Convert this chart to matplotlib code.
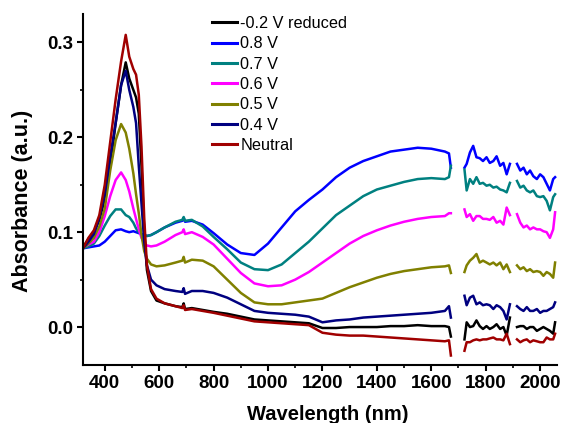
"""
Absorbance spectra at different potentials
"""

import numpy as np
import matplotlib
matplotlib.use('Agg')
import matplotlib.pyplot as plt
from matplotlib.ticker import MultipleLocator

plt.rcParams['font.family'] = ['Liberation Sans', 'DejaVu Sans']

# wavelength grids (nm): visible/NIR part, then two detector segments
wl_vis = [320, 340, 360, 380, 400, 420, 440, 460, 477, 490, 505, 515, 525, 535, 545,
          555, 570, 590, 620, 660, 685, 690, 695, 720, 760, 800, 850, 900, 950, 1000,
          1050, 1100, 1150, 1200, 1250, 1300, 1350, 1400, 1450, 1500, 1550, 1600, 1650, 1665, 1672]
wl_nir1 = [1722, 1730, 1742, 1754, 1766, 1778, 1790, 1803, 1815, 1828, 1840, 1853, 1865, 1877, 1889]
wl_nir2 = [1915, 1927, 1939, 1951, 1963, 1975, 1988, 2000, 2012, 2024, 2036, 2048, 2055]

labels = ['-0.2 V reduced', '0.8 V', '0.7 V', '0.6 V', '0.5 V', '0.4 V', 'Neutral']
colors = ['#000000', '#0000FF', '#008080', '#FF00FF', '#808000', '#000080', '#A00000']

red_vis = [0.083, 0.094, 0.102, 0.118, 0.15, 0.195, 0.24, 0.28, 0.308, 0.285, 0.272, 0.266, 0.245, 0.19, 0.115,
           0.065, 0.04, 0.03, 0.025, 0.022, 0.02, 0.023, 0.018, 0.019, 0.017, 0.015, 0.012, 0.009, 0.006, 0.005,
           0.004, 0.003, 0.002, -0.006, -0.008, -0.009, -0.009, -0.01, -0.011, -0.012, -0.013, -0.014, -0.015, -0.014, -0.03]
red_nir1 = [-0.025, -0.016, -0.016, -0.014, -0.013, -0.014, -0.013, -0.013, -0.012, -0.011, -0.013, -0.013, -0.014, -0.007, -0.018]
red_nir2 = [-0.013, -0.016, -0.014, -0.013, -0.016, -0.014, -0.015, -0.016, -0.016, -0.011, -0.013, -0.013, -0.007]

black_vis = [0.084, 0.093, 0.1, 0.113, 0.135, 0.17, 0.215, 0.255, 0.279, 0.262, 0.25, 0.242, 0.225, 0.17, 0.1,
             0.06, 0.038, 0.028, 0.025, 0.022, 0.021, 0.025, 0.019, 0.02, 0.018, 0.016, 0.014, 0.011, 0.008, 0.007,
             0.006, 0.005, 0.004, -0.001, -0.001, 0.0, 0.0, 0.0, 0.001, 0.001, 0.002, 0.001, 0.001, 0.0, -0.01]
black_nir1 = [-0.013, 0.005, 0.0, 0.001, 0.007, 0.001, -0.002, 0.001, -0.002, 0.0, 0.003, -0.002, 0.0, -0.009, 0.01]
black_nir2 = [0.0, 0.001, 0.001, -0.002, 0.0, 0.0, -0.004, -0.002, 0.0, -0.002, -0.004, -0.007, 0.005]

navy_vis = [0.083, 0.09, 0.098, 0.115, 0.14, 0.18, 0.215, 0.255, 0.27, 0.25, 0.232, 0.215, 0.17, 0.13, 0.09,
            0.065, 0.05, 0.044, 0.04, 0.038, 0.037, 0.041, 0.035, 0.038, 0.038, 0.036, 0.031, 0.024, 0.017, 0.015,
            0.014, 0.013, 0.011, 0.005, 0.007, 0.008, 0.01, 0.011, 0.012, 0.013, 0.014, 0.015, 0.017, 0.022, 0.01]
navy_nir1 = [0.033, 0.023, 0.031, 0.033, 0.024, 0.026, 0.023, 0.024, 0.023, 0.019, 0.023, 0.021, 0.017, 0.008, 0.024]
navy_nir2 = [0.022, 0.019, 0.017, 0.021, 0.017, 0.017, 0.019, 0.015, 0.017, 0.017, 0.019, 0.021, 0.026]

olive_vis = [0.083, 0.088, 0.094, 0.106, 0.125, 0.165, 0.197, 0.214, 0.205, 0.188, 0.162, 0.14, 0.12, 0.097, 0.08,
             0.072, 0.066, 0.064, 0.065, 0.068, 0.07, 0.074, 0.068, 0.071, 0.07, 0.064, 0.05, 0.036, 0.026, 0.024,
             0.024, 0.026, 0.028, 0.03, 0.036, 0.042, 0.047, 0.052, 0.056, 0.059, 0.061, 0.063, 0.064, 0.065, 0.057]
olive_nir1 = [0.058, 0.065, 0.07, 0.073, 0.077, 0.068, 0.07, 0.068, 0.066, 0.068, 0.065, 0.068, 0.061, 0.066, 0.058]
olive_nir2 = [0.065, 0.061, 0.063, 0.059, 0.061, 0.058, 0.059, 0.058, 0.054, 0.058, 0.056, 0.052, 0.068]

magenta_vis = [0.084, 0.087, 0.09, 0.1, 0.117, 0.138, 0.155, 0.163, 0.155, 0.143, 0.125, 0.114, 0.103, 0.094, 0.088,
               0.086, 0.085, 0.086, 0.09, 0.097, 0.1, 0.103, 0.098, 0.1, 0.095, 0.087, 0.072, 0.057, 0.046, 0.043,
               0.044, 0.05, 0.058, 0.068, 0.078, 0.088, 0.096, 0.102, 0.107, 0.111, 0.114, 0.116, 0.117, 0.12, 0.12]
magenta_nir1 = [0.124, 0.116, 0.119, 0.112, 0.117, 0.117, 0.114, 0.114, 0.113, 0.116, 0.11, 0.112, 0.108, 0.126, 0.118]
magenta_nir2 = [0.119, 0.11, 0.105, 0.107, 0.103, 0.105, 0.103, 0.103, 0.101, 0.1, 0.094, 0.103, 0.121]

teal_vis = [0.083, 0.085, 0.088, 0.096, 0.107, 0.117, 0.124, 0.124, 0.118, 0.116, 0.11, 0.104, 0.1, 0.098, 0.097,
            0.096, 0.097, 0.1, 0.105, 0.111, 0.113, 0.116, 0.112, 0.113, 0.106, 0.095, 0.082, 0.068, 0.061, 0.06,
            0.066, 0.078, 0.09, 0.104, 0.118, 0.128, 0.138, 0.145, 0.149, 0.153, 0.156, 0.157, 0.156, 0.158, 0.17]
teal_nir1 = [0.166, 0.144, 0.156, 0.151, 0.158, 0.151, 0.152, 0.149, 0.15, 0.147, 0.148, 0.145, 0.144, 0.142, 0.152]
teal_nir2 = [0.154, 0.147, 0.149, 0.144, 0.142, 0.144, 0.138, 0.137, 0.138, 0.133, 0.123, 0.137, 0.14]

blue_vis = [0.083, 0.084, 0.085, 0.086, 0.09, 0.096, 0.102, 0.103, 0.101, 0.1, 0.101, 0.1, 0.099, 0.098, 0.097,
            0.096, 0.097, 0.1, 0.105, 0.11, 0.112, 0.115, 0.111, 0.112, 0.108, 0.099, 0.087, 0.078, 0.076, 0.088,
            0.105, 0.122, 0.134, 0.145, 0.158, 0.168, 0.175, 0.18, 0.185, 0.187, 0.189, 0.188, 0.185, 0.183, 0.168]
blue_nir1 = [0.168, 0.172, 0.184, 0.191, 0.179, 0.178, 0.175, 0.179, 0.173, 0.175, 0.18, 0.17, 0.173, 0.161, 0.172]
blue_nir2 = [0.172, 0.165, 0.168, 0.161, 0.165, 0.159, 0.156, 0.161, 0.158, 0.151, 0.144, 0.156, 0.158]

series = [(black_vis, black_nir1, black_nir2),
          (blue_vis, blue_nir1, blue_nir2),
          (teal_vis, teal_nir1, teal_nir2),
          (magenta_vis, magenta_nir1, magenta_nir2),
          (olive_vis, olive_nir1, olive_nir2),
          (navy_vis, navy_nir1, navy_nir2),
          (red_vis, red_nir1, red_nir2)]

x_all = np.concatenate([wl_vis, [np.nan], wl_nir1, [np.nan], wl_nir2])

fig = plt.figure(figsize=(5.63, 4.23), dpi=100)
ax = fig.add_axes([83/563, 1 - 365/423, (557 - 83)/563, (365 - 14)/423])

for (vis, n1, n2), lab, col in zip(series, labels, colors):
    y_all = np.concatenate([vis, [np.nan], n1, [np.nan], n2])
    ax.plot(x_all, y_all, color=col, linewidth=1.8, label=lab)

ax.set_xlim(320, 2062)
ax.set_ylim(-0.04, 0.33)
ax.xaxis.set_major_locator(MultipleLocator(200))
ax.xaxis.set_minor_locator(MultipleLocator(100))
ax.yaxis.set_major_locator(MultipleLocator(0.1))
ax.yaxis.set_minor_locator(MultipleLocator(0.05))
ax.yaxis.set_major_formatter(matplotlib.ticker.FormatStrFormatter('%.1f'))

for side in ['top', 'right']:
    ax.spines[side].set_visible(False)
for side in ['left', 'bottom']:
    ax.spines[side].set_linewidth(1.5)

ax.tick_params(which='major', direction='out', length=4, width=1.5, labelsize=13.5, pad=3)
ax.tick_params(which='minor', direction='out', length=2.5, width=1.2)
for lbl in ax.get_xticklabels() + ax.get_yticklabels():
    lbl.set_fontweight('bold')

ax.set_xlabel('Wavelength (nm)', fontsize=14.5, fontweight='bold')
ax.xaxis.set_label_coords(0.517, -0.113)
ax.set_ylabel('Absorbance (a.u.)', fontsize=15.5, fontweight='bold')
ax.yaxis.set_label_coords(-0.105, 0.467)

leg = ax.legend(loc='upper left', bbox_to_anchor=(212/563, 1 - 16/423), bbox_transform=fig.transFigure,
                frameon=False, fontsize=11.7, handlelength=1.55, handletextpad=0.2,
                labelspacing=0.33, borderpad=0, borderaxespad=0)
for line in leg.get_lines():
    line.set_linewidth(2.2)

fig.savefig('out.png', dpi=100)
plt.close(fig)
